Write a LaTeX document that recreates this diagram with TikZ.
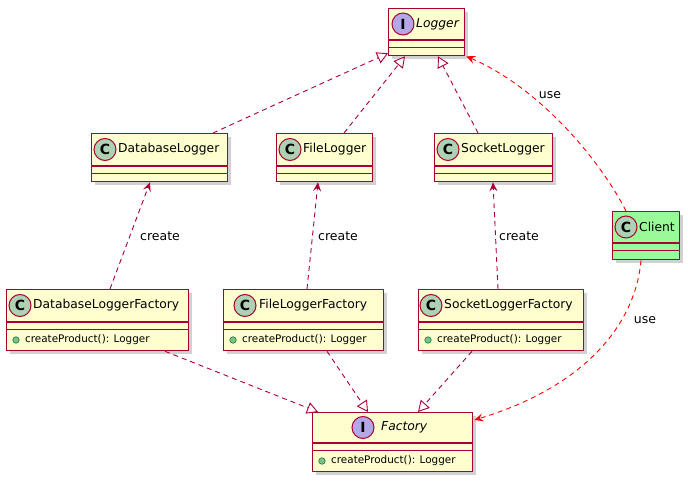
\documentclass[tikz,border=0pt]{standalone}
\usepackage{fontspec}
\setmainfont{DejaVu Sans}
\usetikzlibrary{calc,arrows.meta,shadows}
\definecolor{umlborder}{HTML}{A80036}
\definecolor{umlfill}{HTML}{FEFECE}
\definecolor{clientfill}{HTML}{98FB98}
\definecolor{ccircle}{HTML}{ADD1B2}
\definecolor{icircle}{HTML}{B4A7E5}
\definecolor{pubfill}{HTML}{84BE84}
\definecolor{publine}{HTML}{038048}
\definecolor{userel}{HTML}{FF0000}
\newcommand{\clsbox}[7]{%
  \node[umlbox, fill=#7, minimum width=#4pt, minimum height=#5pt, anchor=north west] (#1) at (#2,#3) {};
  \draw[umlsep] ($(#1.north west)+(0,#6)$) -- ($(#1.north east)+(0,#6)$);
  \draw[umlsep] ($(#1.north west)+(0,#6+7.5)$) -- ($(#1.north east)+(0,#6+7.5)$);
}
\tikzset{
  umlbox/.style={draw=umlborder, line width=1.3pt, inner sep=0pt, rectangle,
    drop shadow={shadow xshift=3.5pt, shadow yshift=-3.5pt, opacity=0.3, fill=black!60}},
  umlsep/.style={draw=umlborder, line width=1.1pt},
  ccirc/.style={circle, draw=umlborder, line width=1pt, fill=ccircle, minimum size=22pt, inner sep=0pt,
    font=\fontsize{14}{14}\selectfont\bfseries},
  icirc/.style={circle, draw=umlborder, line width=1pt, fill=icircle, minimum size=22pt, inner sep=0pt,
    font=\fontsize{14}{14}\selectfont\bfseries},
  clsname/.style={inner sep=0pt, anchor=west, font=\fontsize{12.3}{14}\selectfont},
  ifname/.style={inner sep=0pt, anchor=west, font=\fontsize{12.3}{14}\selectfont\itshape},
  pubdot/.style={circle, draw=publine, fill=pubfill, line width=0.6pt, minimum size=6.5pt, inner sep=0pt},
  methtxt/.style={inner sep=0pt, anchor=west, font=\fontsize{10.4}{12}\selectfont},
  rellbl/.style={inner sep=1pt, font=\fontsize{12.5}{14}\selectfont},
  inherit/.style={draw=umlborder, line width=0.9pt, dash pattern=on 5pt off 4pt,
    -{Triangle[length=11pt, width=12pt, fill=white, line width=0.9pt]}},
  creates/.style={draw=umlborder, line width=0.9pt, dash pattern=on 5pt off 4pt,
    -{Stealth[length=9pt, width=8pt, inset=3.5pt]}},
  uses/.style={draw=userel, line width=0.9pt, dash pattern=on 5pt off 4pt,
    -{Stealth[length=9pt, width=8pt, inset=3.5pt]}},
}
\begin{document}
\begin{tikzpicture}[x=1pt, y=-1pt]
\useasboundingbox (0,0) rectangle (688,481);

% ---------- classes ----------
\clsbox{lg}{388}{8}{76}{47}{32}{umlfill}
\node[icirc] (lgc) at (403,24) {I};
\node[ifname] (lgn) at (416,24) {Logger};

\clsbox{dl}{91}{133}{136}{48}{33}{umlfill}
\node[ccirc] (dlc) at (105,149.5) {C};
\node[clsname] (dln) at (118,149.5) {DatabaseLogger};

\clsbox{fl}{276}{133}{96}{48}{33}{umlfill}
\node[ccirc] (flc) at (290,149.5) {C};
\node[clsname] (fln) at (303,149.5) {FileLogger};

\clsbox{sl}{434}{133}{118}{48}{33}{umlfill}
\node[ccirc] (slc) at (448,149.5) {C};
\node[clsname] (sln) at (461,149.5) {SocketLogger};

\clsbox{cl}{612}{211}{67}{48}{32}{clientfill}
\node[ccirc] (clc) at (626,227) {C};
\node[clsname] (cln) at (639,227) {Client};

\clsbox{dlf}{6}{289}{182}{61}{33}{umlfill}
\node[ccirc] (dlfc) at (20,305.5) {C};
\node[clsname] (dlfn) at (33,305.5) {DatabaseLoggerFactory};
\node[pubdot] (dlfd) at (16,340) {};
\node[methtxt] (dlfm) at (25,340) {createProduct(): Logger};

\clsbox{flf}{223}{289}{160}{61}{33}{umlfill}
\node[ccirc] (flfc) at (245,305.5) {C};
\node[clsname] (flfn) at (259,305.5) {FileLoggerFactory};
\node[pubdot] (flfd) at (233,340) {};
\node[methtxt] (flfm) at (242,340) {createProduct(): Logger};

\clsbox{slf}{418}{289}{165}{61}{33}{umlfill}
\node[ccirc] (slfc) at (431,305.5) {C};
\node[clsname] (slfn) at (444,305.5) {SocketLoggerFactory};
\node[pubdot] (slfd) at (428,340) {};
\node[methtxt] (slfm) at (437,340) {createProduct(): Logger};

\clsbox{fa}{312}{412}{160}{59}{31}{umlfill}
\node[icirc] (fac) at (363,427.5) {I};
\node[ifname] (fan) at (381,427.5) {Factory};
\node[pubdot] (fad) at (322,461) {};
\node[methtxt] (fam) at (331,461) {createProduct(): Logger};

% ---------- relations ----------
\draw[inherit] ($(dl.north west)+(122,0)$) -- ($(lg.south west)+(0,-3)$);
\draw[inherit] ($(fl.north west)+(68,0)$) -- ($(lg.south west)+(17,0)$);
\draw[inherit] ($(sl.north west)+(44,0)$) -- ($(lg.south west)+(50,0)$);

\draw[uses] ($(cl.north west)+(14,0)$) .. controls (600,160) and (540,88) .. ($(lg.south east)+(1,0)$);
\node[rellbl] (u1) at (550,95) {use};

\draw[creates] ($(dlf.north west)+(104,0)$) -- ($(dl.south west)+(59,0)$);
\node[rellbl] (c1) at (160,236) {create};
\draw[creates] ($(flf.north west)+(84,0)$) -- ($(fl.south west)+(42,0)$);
\node[rellbl] (c2) at (338,236) {create};
\draw[creates] ($(slf.north west)+(80,0)$) -- ($(sl.south west)+(59,0)$);
\node[rellbl] (c3) at (519,236) {create};

\draw[inherit] ($(dlf.south west)+(159,0)$) -- ($(fa.north west)+(6,0)$);
\draw[inherit] ($(flf.south west)+(104,0)$) -- ($(fa.north west)+(56,0)$);
\draw[inherit] ($(slf.south west)+(54,0)$) -- ($(fa.north west)+(106,0)$);

\draw[uses] ($(cl.south west)+(29,0)$) .. controls (636,320) and (590,385) .. ($(fa.north east)+(1,8)$);
\node[rellbl] (u2) at (645,320) {use};
\end{tikzpicture}
\end{document}
